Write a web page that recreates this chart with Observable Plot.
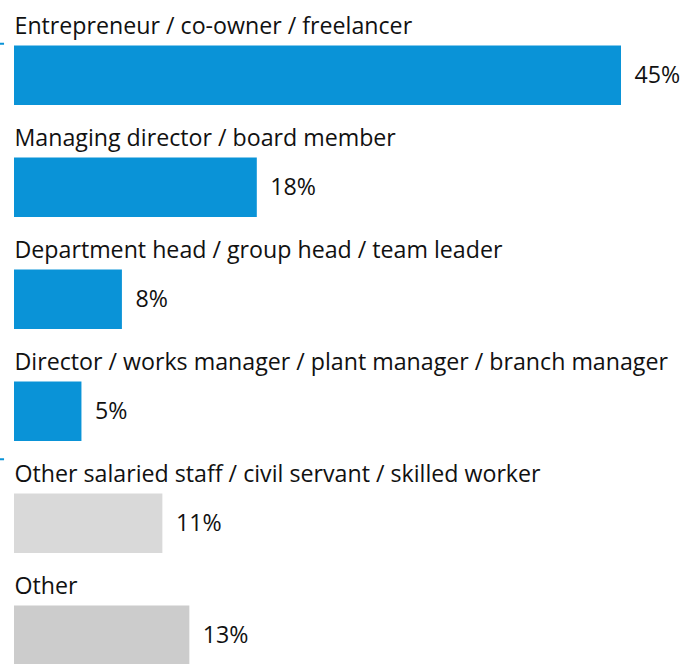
<!DOCTYPE html>
<html>
<head>
<meta charset="utf-8">
<script src="https://cdn.jsdelivr.net/npm/d3@7"></script>
<script src="https://cdn.jsdelivr.net/npm/@observablehq/plot@0.6"></script>
<style>
  html, body { margin: 0; padding: 0; background: #ffffff; }
  #chart svg { display: block; }
</style>
</head>
<body>
<div id="chart"></div>
<script>
const categories = [
  "Entrepreneur / co-owner / freelancer",
  "Managing director / board member",
  "Department head / group head / team leader",
  "Director / works manager / plant manager / branch manager",
  "Other salaried staff / civil servant / skilled worker",
  "Other"
];
const values = [45, 18, 8, 5, 11, 13];
const valueLabels = ["45%", "18%", "8%", "5%", "11%", "13%"];
const barColors = ["#0a93d7", "#0a93d7", "#0a93d7", "#0a93d7", "#d9d9d9", "#cccccc"];
const groupTop = [categories[0]];
const groupBottom = [categories[4]];

const data = categories.map((c, i) => ({
  category: c, value: values[i], label: valueLabels[i], color: barColors[i]
}));

const blue = "#0a93d7";
const fontSize = 23.2;

const chart = Plot.plot({
  width: 694,
  height: 664,
  margin: 0,
  style: { fontFamily: "'Open Sans', sans-serif", background: "#ffffff", color: "#111111" },
  x: { domain: [0, 45], range: [14, 621], axis: null },
  y: { domain: categories, range: [-9, 666], padding: 0, axis: null },
  marks: [
    Plot.barX(data, { x: "value", y: "category", fill: "color", insetTop: 52.5, insetBottom: 0 }),
    Plot.text(data, { x: 0, y: "category", text: "category", textAnchor: "start", lineAnchor: "bottom", dy: -15.75, fontSize, fill: "#111111" }),
    Plot.text(data, { x: "value", y: "category", text: "label", textAnchor: "start", lineAnchor: "middle", dx: 13, dy: 26.25, fontSize, fill: "#111111" }),
    Plot.ruleY(groupTop, { y: d => d, x1: 0, x2: 0.3, dx: -14, dy: -5.75, stroke: blue, strokeWidth: 2 }),
    Plot.ruleY(groupBottom, { y: d => d, x1: 0, x2: 0.3, dx: -14, dy: -38.25, stroke: blue, strokeWidth: 2 })
  ]
});
document.getElementById("chart").appendChild(chart);
</script>
</body>
</html>
